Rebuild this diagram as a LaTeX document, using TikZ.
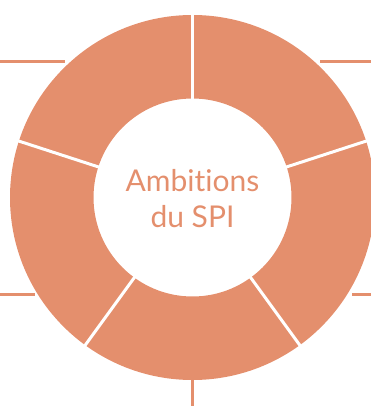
\documentclass[tikz,border=0pt]{standalone}
\usepackage{fontspec}
\setmainfont{Lato}[Ligatures=NoCommon]
\definecolor{spi}{HTML}{E48F6D}
\begin{document}
\begin{tikzpicture}[x=1pt,y=-1pt,
  conn/.style={draw=spi,line width=3pt},
  sep/.style={draw=white,line width=3pt},
  title/.style={text=spi,font=\fontsize{30}{36}\selectfont,align=center,inner sep=0pt}]
\useasboundingbox (0,0) rectangle (371,406);
\coordinate (c) at (192.5,197.5);
% outer connector lines
\coordinate (tl0) at (0,62);   \coordinate (tl1) at (65,62);
\coordinate (tr0) at (320,62); \coordinate (tr1) at (371,62);
\coordinate (bl0) at (0,294);  \coordinate (bl1) at (35,294);
\coordinate (br0) at (352,294);\coordinate (br1) at (371,294);
\coordinate (b0) at (192.5,380);\coordinate (b1) at (192.5,406);
\draw[conn] (tl0) -- (tl1);
\draw[conn] (tr0) -- (tr1);
\draw[conn] (bl0) -- (bl1);
\draw[conn] (br0) -- (br1);
\draw[conn] (b0) -- (b1);
% donut
\fill[spi,even odd rule] (c) circle (182.5pt) (c) circle (99pt);
\foreach \a in {90,18,-54,-126,162}
  \draw[sep] ([shift={(c)}]\a:96pt) -- ([shift={(c)}]\a:186pt);
\node[title] (t) at (192.5,199) {Ambit\kern0pt ions\\du SPI};
\end{tikzpicture}
\end{document}
